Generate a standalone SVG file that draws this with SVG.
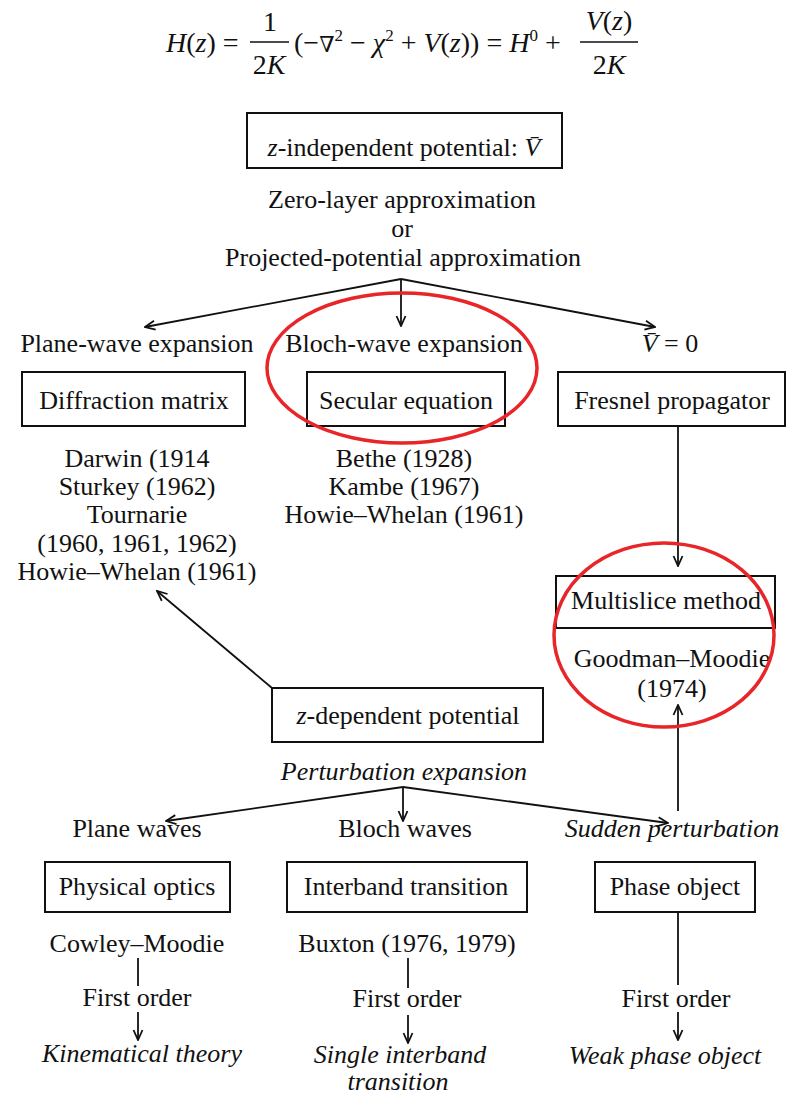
<svg xmlns="http://www.w3.org/2000/svg" width="809" height="1097" viewBox="0 0 809 1097">
<style>
.t{font-family:"Liberation Serif","Times New Roman",serif;font-size:26px;fill:#111;text-anchor:middle}
.f{font-family:"Liberation Serif","Times New Roman",serif;font-size:28px;fill:#111}
.i{font-style:italic}
.nab{font-family:"DejaVu Serif",serif;font-size:22px;font-weight:normal}
.box{fill:#fff;stroke:#111;stroke-width:2}
.ln{stroke:#111;stroke-width:1.8;fill:none}
.red{fill:none;stroke:#e8262a;stroke-width:3.5}
</style>
<defs>
<marker id="ah" viewBox="0 0 12 12" refX="11" refY="6" markerWidth="12" markerHeight="12" markerUnits="userSpaceOnUse" orient="auto">
<path d="M1,1.5 L11,6 L1,10.5" fill="none" stroke="#111" stroke-width="1.8"/>
</marker>
</defs>
<rect width="809" height="1097" fill="#fff"/>

<g id="formula">
<text class="f" x="166" y="52"><tspan class="i">H</tspan>(<tspan class="i">z</tspan>) =</text>
<text class="f" x="270" y="31" text-anchor="middle">1</text>
<line x1="250" y1="42" x2="289" y2="42" stroke="#111" stroke-width="1.6"/>
<text class="f" x="269" y="74" text-anchor="middle">2<tspan class="i">K</tspan></text>
<text class="f" x="294" y="52">(−<tspan class="nab">∇</tspan><tspan font-size="17" dy="-11">2</tspan><tspan dy="11"> − </tspan><tspan class="i">χ</tspan><tspan font-size="17" dy="-11">2</tspan><tspan dy="11"> + </tspan><tspan class="i">V</tspan>(<tspan class="i">z</tspan>)) = <tspan class="i">H</tspan><tspan font-size="17" dy="-11">0</tspan><tspan dy="11"> +</tspan></text>
<text class="f" x="609" y="30" text-anchor="middle"><tspan class="i">V</tspan>(<tspan class="i">z</tspan>)</text>
<line x1="580" y1="42" x2="638" y2="42" stroke="#111" stroke-width="1.6"/>
<text class="f" x="609" y="74" text-anchor="middle">2<tspan class="i">K</tspan></text>
</g>

<g id="connectors">
<line class="ln" x1="401" y1="279" x2="145" y2="327" marker-end="url(#ah)"/>
<line class="ln" x1="401" y1="279" x2="401" y2="326" marker-end="url(#ah)"/>
<line class="ln" x1="401" y1="279" x2="655" y2="327" marker-end="url(#ah)"/>
<line class="ln" x1="678" y1="426" x2="678" y2="566" marker-end="url(#ah)"/>
<line class="ln" x1="272" y1="688" x2="157" y2="591" marker-end="url(#ah)"/>
<line class="ln" x1="678" y1="811" x2="678" y2="705" marker-end="url(#ah)"/>
<line class="ln" x1="403" y1="787" x2="166" y2="821" marker-end="url(#ah)"/>
<line class="ln" x1="403" y1="787" x2="403" y2="821" marker-end="url(#ah)"/>
<line class="ln" x1="403" y1="787" x2="668" y2="823" marker-end="url(#ah)"/>
<line class="ln" x1="138" y1="958" x2="138" y2="986"/>
<line class="ln" x1="138" y1="1012" x2="138" y2="1040" marker-end="url(#ah)"/>
<line class="ln" x1="408" y1="958" x2="408" y2="988"/>
<line class="ln" x1="408" y1="1015" x2="408" y2="1043" marker-end="url(#ah)"/>
<line class="ln" x1="678" y1="912" x2="678" y2="985"/>
<line class="ln" x1="678" y1="1012" x2="678" y2="1040" marker-end="url(#ah)"/>
</g>

<g id="zindep">
<rect class="box" x="247" y="113" width="315" height="55"/>
<text class="t" x="404" y="156"><tspan class="i">z</tspan>-independent potential: <tspan class="i">V̄</tspan></text>
</g>
<g id="approx">
<text class="t" x="402" y="208">Zero-layer approximation</text>
<text class="t" x="402" y="237">or</text>
<text class="t" x="403" y="266">Projected-potential approximation</text>
</g>

<g id="labels1">
<text class="t" x="137" y="352">Plane-wave expansion</text>
<text class="t" x="404" y="352">Bloch-wave expansion</text>
<text class="t" x="670" y="352"><tspan class="i">V̄</tspan> = 0</text>
</g>

<g id="diffraction">
<rect class="box" x="22" y="372" width="223" height="54"/>
<text class="t" x="134" y="409">Diffraction matrix</text>
<text class="t" x="137" y="467">Darwin (1914</text>
<text class="t" x="137" y="495">Sturkey (1962)</text>
<text class="t" x="137" y="523">Tournarie</text>
<text class="t" x="137" y="552">(1960, 1961, 1962)</text>
<text class="t" x="137" y="580">Howie–Whelan (1961)</text>
</g>

<g id="secular">
<rect class="box" x="307" y="372" width="198" height="54"/>
<text class="t" x="406" y="409">Secular equation</text>
<text class="t" x="404" y="467">Bethe (1928)</text>
<text class="t" x="404" y="495">Kambe (1967)</text>
<text class="t" x="404" y="523">Howie–Whelan (1961)</text>
</g>

<g id="fresnel">
<rect class="box" x="558" y="372" width="227" height="54"/>
<text class="t" x="672" y="409">Fresnel propagator</text>
</g>

<g id="multislice">
<rect class="box" x="556" y="576" width="219" height="52"/>
<text class="t" x="666" y="609">Multislice method</text>
<text class="t" x="672" y="667">Goodman–Moodie</text>
<text class="t" x="672" y="697">(1974)</text>
</g>

<g id="zdep">
<rect class="box" x="272" y="688" width="271" height="54"/>
<text class="t" x="408" y="724"><tspan class="i">z</tspan>-dependent potential</text>
<text class="t i" x="404" y="780">Perturbation expansion</text>
</g>

<g id="labels2">
<text class="t" x="137" y="837">Plane waves</text>
<text class="t" x="405" y="837">Bloch waves</text>
<text class="t i" x="672" y="837">Sudden perturbation</text>
</g>

<g id="physical">
<rect class="box" x="45" y="862" width="185" height="50"/>
<text class="t" x="137" y="895">Physical optics</text>
<text class="t" x="137" y="952">Cowley–Moodie</text>
<text class="t" x="137" y="1006">First order</text>
<text class="t i" x="142" y="1062">Kinematical theory</text>
</g>

<g id="interband">
<rect class="box" x="287" y="862" width="240" height="50"/>
<text class="t" x="406" y="895">Interband transition</text>
<text class="t" x="407" y="952">Buxton (1976, 1979)</text>
<text class="t" x="407" y="1007">First order</text>
<text class="t i" x="400" y="1063">Single interband</text>
<text class="t i" x="398" y="1090">transition</text>
</g>

<g id="phase">
<rect class="box" x="595" y="862" width="160" height="50"/>
<text class="t" x="675" y="895">Phase object</text>
<text class="t" x="676" y="1007">First order</text>
<text class="t i" x="665" y="1064">Weak phase object</text>
</g>

<g id="highlights">
<ellipse class="red" cx="402" cy="368" rx="135" ry="75"/>
<ellipse class="red" cx="664" cy="635" rx="110" ry="92"/>
</g>
</svg>
